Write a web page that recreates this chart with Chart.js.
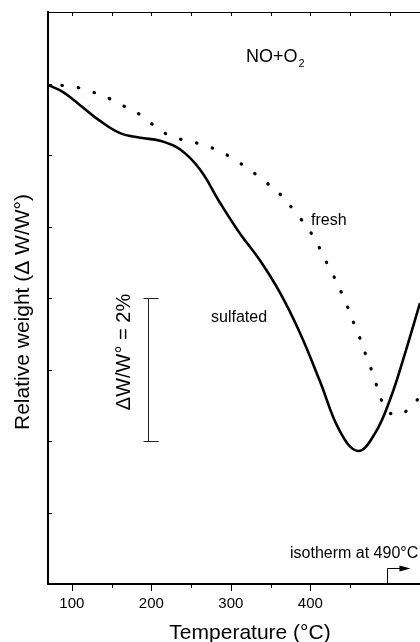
<!DOCTYPE html>
<html>
<head>
<meta charset="utf-8">
<script src="https://cdn.jsdelivr.net/npm/chart.js@4.4.1/dist/chart.umd.min.js"></script>
<style>
  html, body { margin: 0; padding: 0; background: #fff; overflow: hidden; }
  #wrap { width: 420px; height: 642px; }
</style>
</head>
<body>
<div id="wrap"><canvas id="tga" width="420" height="642"></canvas></div>
<script>
// sulfated sample (solid line)
const sulfatedTemp = [70, 89, 110, 135, 160, 186, 211, 236, 261, 286, 311, 337, 362, 387, 412, 437, 460, 481, 500, 519, 538];
const sulfatedWeight = [6.98, 6.88, 6.70, 6.48, 6.31, 6.24, 6.20, 6.08, 5.80, 5.34, 4.91, 4.52, 4.07, 3.51, 2.84, 2.14, 1.86, 2.10, 2.57, 3.22, 3.93];

// fresh sample (dotted line)
const freshTemp = [70, 90, 109, 129, 149, 168, 188, 207, 227, 246, 265, 285, 304, 324, 344, 363, 379, 394, 407, 417, 427, 436, 445, 452, 460, 467, 474, 481, 487, 497, 506, 515, 526, 538];
const freshWeight = [6.98, 6.97, 6.94, 6.87, 6.78, 6.67, 6.55, 6.38, 6.25, 6.20, 6.14, 6.06, 5.94, 5.79, 5.62, 5.44, 5.23, 5.02, 4.80, 4.57, 4.36, 4.15, 3.93, 3.72, 3.51, 3.29, 3.08, 2.87, 2.64, 2.43, 2.36, 2.38, 2.47, 2.62];

const xLabelTicks = [100, 200, 300, 400];
const xMinorTicks = [150, 250, 350, 450];
const topTicks = [100, 150, 200, 250, 300, 350, 400, 450, 500];
const yTicks = [1, 2, 3, 4, 5, 6, 7];

const FONT = "'Liberation Sans', Arial, Helvetica, sans-serif";
Chart.defaults.font.family = FONT;
Chart.defaults.color = '#000';

const toPoints = (xs, ys) => xs.map((t, i) => ({ x: t, y: ys[i] }));

const frame = {
  id: 'frame',
  afterDraw(chart) {
    const { ctx, chartArea: a, scales: { x, y } } = chart;
    ctx.save();
    ctx.strokeStyle = '#000';
    ctx.fillStyle = '#000';

    // top border
    ctx.lineWidth = 1;
    ctx.beginPath();
    ctx.moveTo(a.left, a.top + 0.5);
    ctx.lineTo(a.right, a.top + 0.5);
    ctx.stroke();

    // tick marks
    ctx.beginPath();
    topTicks.forEach(v => {
      const px = Math.round(x.getPixelForValue(v)) + 0.5;
      ctx.moveTo(px, a.top);
      ctx.lineTo(px, a.top + 4);
    });
    yTicks.forEach(v => {
      const py = Math.round(y.getPixelForValue(v)) + 0.5;
      ctx.moveTo(a.left, py);
      ctx.lineTo(a.left + 4, py);
    });
    xLabelTicks.forEach(v => {
      const px = Math.round(x.getPixelForValue(v)) + 0.5;
      ctx.moveTo(px, a.bottom);
      ctx.lineTo(px, a.bottom + 7);
    });
    xMinorTicks.forEach(v => {
      const px = Math.round(x.getPixelForValue(v)) + 0.5;
      ctx.moveTo(px, a.bottom);
      ctx.lineTo(px, a.bottom + 4);
    });
    ctx.stroke();

    // scale bar 2 %
    const bx = Math.round(x.getPixelForValue(196)) + 0.5;
    const b1 = Math.round(y.getPixelForValue(4)) + 0.5;
    const b2 = Math.round(y.getPixelForValue(2)) + 0.5;
    ctx.strokeStyle = '#222';
    ctx.beginPath();
    ctx.moveTo(bx, b1); ctx.lineTo(bx, b2);
    ctx.moveTo(bx - 5, b1); ctx.lineTo(bx + 10, b1);
    ctx.moveTo(bx - 5, b2); ctx.lineTo(bx + 10, b2);
    ctx.stroke();

    // isotherm arrow
    const ax = Math.round(x.getPixelForValue(496)) + 0.5;
    const ay = Math.round(y.getPixelForValue(0.22)) + 0.5;
    const aEnd = x.getPixelForValue(526);
    ctx.strokeStyle = '#000';
    ctx.beginPath();
    ctx.moveTo(ax, a.bottom);
    ctx.lineTo(ax, ay);
    ctx.lineTo(aEnd - 10, ay);
    ctx.stroke();
    ctx.beginPath();
    ctx.moveTo(aEnd, ay);
    ctx.lineTo(aEnd - 11, ay - 3);
    ctx.lineTo(aEnd - 11, ay + 3);
    ctx.closePath();
    ctx.fill();

    // text
    ctx.textBaseline = 'alphabetic';
    ctx.textAlign = 'left';
    ctx.font = `18px ${FONT}`;
    ctx.fillText('NO+O', 246, 62);
    const w = ctx.measureText('NO+O').width;
    ctx.font = `11px ${FONT}`;
    ctx.fillText('2', 246 + w + 1, 67);

    ctx.font = `16px ${FONT}`;
    ctx.fillText('fresh', 311, 225);
    ctx.fillText('sulfated', 211, 322);
    ctx.fillText('isotherm at 490°C', 290, 558);

    ctx.font = `21px ${FONT}`;
    ctx.textAlign = 'center';
    ctx.fillText('Temperature (°C)', 250, 639);

    ctx.save();
    ctx.translate(29, 312);
    ctx.rotate(-Math.PI / 2);
    ctx.fillText('Relative weight (Δ W/W°)', 0, 0);
    ctx.restore();

    ctx.font = `20px ${FONT}`;
    ctx.save();
    ctx.translate(130, 352);
    ctx.rotate(-Math.PI / 2);
    ctx.fillText('ΔW/W° = 2%', 0, 0);
    ctx.restore();

    ctx.restore();
  }
};

new Chart(document.getElementById('tga'), {
  type: 'line',
  data: {
    datasets: [
      {
        label: 'sulfated',
        data: toPoints(sulfatedTemp, sulfatedWeight),
        borderColor: '#000',
        borderWidth: 2.6,
        pointRadius: 0,
        tension: 0.4,
        fill: false
      },
      {
        label: 'fresh',
        data: toPoints(freshTemp, freshWeight),
        borderColor: '#000',
        borderWidth: 3.2,
        borderDash: [0.5, 16],
        borderDashOffset: -14,
        borderCapStyle: 'round',
        pointRadius: 0,
        tension: 0.4,
        fill: false
      }
    ]
  },
  options: {
    responsive: false,
    animation: false,
    devicePixelRatio: 1,
    layout: { padding: { top: 12, left: 0, right: 0, bottom: 0 } },
    plugins: {
      legend: { display: false },
      tooltip: { enabled: false }
    },
    scales: {
      x: {
        type: 'linear',
        position: 'bottom',
        min: 70,
        max: 538,
        afterBuildTicks: scale => { scale.ticks = xLabelTicks.map(v => ({ value: v })); },
        afterFit: scale => { scale.height = 58; },
        grid: { display: true, drawOnChartArea: false, drawTicks: false },
        border: { display: true, color: '#000', width: 2 },
        ticks: { padding: 11, maxRotation: 0, font: { size: 15 }, color: '#000' }
      },
      y: {
        type: 'linear',
        min: 0,
        max: 8,
        afterFit: scale => { scale.width = 48; },
        grid: { display: true, drawOnChartArea: false, drawTicks: false },
        border: { display: true, color: '#000', width: 2 },
        ticks: { display: false }
      }
    }
  },
  plugins: [frame]
});
</script>
</body>
</html>
